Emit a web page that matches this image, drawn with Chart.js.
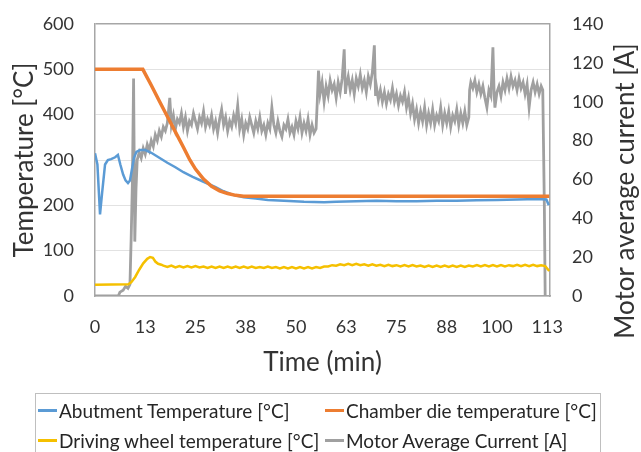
<!DOCTYPE html>
<html>
<head>
<meta charset="utf-8">
<script src="https://cdn.jsdelivr.net/npm/chart.js@4.4.1/dist/chart.umd.min.js"></script>
<style>
  html, body { margin:0; padding:0; background:#fff; }
  #wrap { position:relative; width:641px; height:452px; overflow:hidden; font-family:'Lato', sans-serif; }
  #legend { position:absolute; left:35px; top:393px; width:566px; height:70px; border:1px solid #bfbfbf; box-sizing:border-box; }
  .lg-item { position:absolute; display:flex; align-items:center; height:30px; font-size:19px; color:#262626; white-space:nowrap; }
  .lg-line { width:19px; height:3px; margin-right:2px; }
</style>
</head>
<body>
<div id="wrap">
  <canvas id="chart" width="641" height="452"></canvas>
  <div id="legend"></div>
</div>
<script>
'use strict';

// ── Colors / fonts ────────────────────────────────────────
const C = {
  blue:   '#5b9bd5',
  orange: '#ed7d31',
  yellow: '#f5c000',
  grey:   '#a0a0a0',
  frame:  '#a6a6a6',
  grid:   '#e2e2e2',
  text:   '#333333',
  none:   'rgba(0,0,0,0)',
};
const TICK_FONT  = { family: 'Lato', size: 18 };
const TITLE_FONT = { family: 'Lato', size: 26 };

// ── Data ──────────────────────────────────────────────────
const X_TICKS = [0, 12.5, 25, 37.5, 50, 62.5, 75, 87.5, 100, 112.5];

// Abutment Temperature [°C]
const ABUT_T = [0,0.6,1.25,1.8,2.5,3.2,4.0,5.0,5.7,6.3, 7.0,7.6,8.2,8.7,9.2,9.7,10.3,11.2,12.5,14,
                16,18,20,22,24.3,27,30,32,34.3,37, 40,43,47,52,57,60,65,70,75,80, 85,90,95,100,105,110,112.3,112.9];
const ABUT_V = [315,290,180,230,290,300,302,306,311,290, 268,255,249,255,280,305,318,322,322,316,
                305,294,284,273,263,252,240,231,223,218, 215,212,210,208,207,208,209,210,209,209, 210,210,211,212,213,214,213,200];

// Chamber die temperature [°C]
const CHAMBER_T = [0,11.9,14,16,18,20,22,23.6,25,27,29,31,33,35,37,39,113];
const CHAMBER_V = [500,500,465,430,396,362,328,300,280,258,242,232,226,222,220,220,220];

// Driving wheel temperature [°C]
const DRIVE_T = [0,8.3,9,10,11,12,13,13.7,14.4,15,15.7,16.5,
  17,18,19,20,21,22,23,24,25,26, 27,28,29,30,31,32,33,34,35,36,
  37,38,39,40,41,42,43,44,45,46, 47,48,49,50,51,52,53,54,55,56,
  57,58,59,60,61,62,63,64,65,66, 67,68,69,70,71,72,73,74,75,76,
  77,78,79,80,81,82,83,84,85,86, 87,88,89,90,91,92,93,94,95,96,
  97,98,99,100,101,102,103,104,105,106, 107,108,109,110,111,112, 113];
const DRIVE_V = [25,26,30,42,58,72,82,86,84,76,71,69,
  67,64,67,63,66,63,66,63,66,63, 65,62,65,62,65,62,65,62,65,62,
  65,62,65,62,64,62,65,62,64,61, 64,61,64,61,64,61,64,61,64,62,
  65,65,68,67,70,68,71,68,71,68, 70,67,70,67,69,66,69,66,68,65,
  68,65,68,65,67,64,67,64,67,64, 67,64,67,64,67,64,67,65,68,65,
  68,65,68,65,68,65,68,66,69,66, 69,66,69,66,68,66, 55];

// Motor Average Current [A]
const CURRENT_T = [
  0,5.8,6.2,7,7.6,8.2,8.7,9,9.3,9.6, 9.9,10.2,10.5,11,11.5,12,12.5,13,13.5,14,
  14.5,15,15.5,16,16.5,17,17.5,18,18.6,
  19,19.5,20,20.5,21,21.5,22,22.5,23,23.5, 24,24.5,25,25.5,26,26.5,27,27.5,28,28.5,
  29,29.5,30,30.5,31,31.5,32,32.5,33,33.5, 34,34.5,35,35.5,36,36.5,37,37.5,38,38.5,
  39,39.5,40,40.5,41,41.5,42,42.5,43,43.5, 44,44.5,45,45.5,46,46.5,47,47.5,48,48.5,
  49,49.5,50,50.5,51,51.5,52,52.5,53,53.5, 54,54.5,55,
  55.3,55.6,56,56.5,57,57.5,58,58.5,59,59.5,60,60.5,61,61.5,
  62,62.3,62.5,63,63.5,64,64.5,65,65.5,66,66.5,67,67.5,68,68.5,69,
  69.5,69.8,70,70.5,71,71.5,72,72.5,73,73.5,74,74.5, 75,75.5,76,76.5,77,77.5,78,78.5,79,79.5,
  80,80.5,81,81.5,82,82.5,83,83.5,84,84.5, 85,85.5,86,86.5,87,87.5,88,88.5,89,89.5,
  90,90.5,91,91.5,92,92.5,93,
  93.2,93.5,94,94.5,95,95.5,96,96.5,97,97.5,98,98.5,
  99,99.3,99.5,100,100.5,101,101.5,102,102.5,103,103.5,104,104.5,105,105.5,
  106,106.5,107,107.5,108,108.5,109,109.5,110,110.5,111,
  111.4,111.8,112];
const CURRENT_A = [
  0,0,2,3,5,4,6,30,58,112, 28,55,70,74,71,76,73,78,75,80,
  77,83,80,85,82,87,85,89,102,
  88,93,86,91,89,94,87,92,85,90, 88,94,90,86,92,89,95,87,91,88,
  93,86,90,84,91,96,88,92,85,90, 87,93,89,98,86,91,83,89,86,92,
  88,84,90,86,92,85,88,83,89,86, 97,88,84,90,85,82,88,86,91,84,
  87,83,90,86,92,84,89,85,91,83, 88,84,86,
  100,116,104,110,100,108,103,111,106,109,102,110,105,112,
  127,104,108,113,106,111,104,112,108,114,107,111,105,113,109,115,
  129,103,108,101,106,100,105,99,104,101,107,100, 104,98,103,100,105,97,102,94,99,91,
  96,89,95,90,97,88,94,89,96,88, 93,90,97,88,94,89,95,87,93,90,
  96,88,94,89,95,88,92,
  106,110,107,111,105,109,104,108,102,97,106,103,
  128,104,97,105,108,103,110,106,112,107,113,108,111,106,112,
  107,110,104,109,97,106,110,105,109,104,108,
  106,45,0];

const zip = (xs, ys) => xs.map((x, i) => ({ x, y: ys[i] }));

// ── Right axis title (kept off the scale so it is not squeezed) ──
const rightTitle = {
  id: 'rightTitle',
  afterDraw(chart) {
    const { ctx, chartArea } = chart;
    const s = chart.scales.y2;
    ctx.save();
    ctx.translate(s.right - 15, (chartArea.top + chartArea.bottom) / 2 + 31);
    ctx.rotate(-Math.PI / 2);
    ctx.font = `${TITLE_FONT.size}px ${TITLE_FONT.family}`;
    ctx.fillStyle = C.text;
    ctx.textAlign = 'center';
    ctx.textBaseline = 'middle';
    ctx.fillText('Motor average current [A]', 0, 0);
    ctx.restore();
  }
};

// ── Chart ─────────────────────────────────────────────────
// y-axis label gaps come from invisible tick marks: ticks.padding would also pad the top
const chart = new Chart(document.getElementById('chart'), {
  type: 'line',
  data: {
    datasets: [
      { label:'Abutment Temperature [°C]',   data: zip(ABUT_T, ABUT_V),       borderColor:C.blue,   borderWidth:2.5, yAxisID:'y',  order:1 },
      { label:'Chamber die temperature [°C]', data: zip(CHAMBER_T, CHAMBER_V), borderColor:C.orange, borderWidth:3.5, yAxisID:'y',  order:0 },
      { label:'Driving wheel temperature [°C]', data: zip(DRIVE_T, DRIVE_V),  borderColor:C.yellow, borderWidth:2.5, yAxisID:'y',  order:2 },
      { label:'Motor Average Current [A]',    data: zip(CURRENT_T, CURRENT_A), borderColor:C.grey,   borderWidth:2.8, yAxisID:'y2', order:3 },
    ]
  },
  options: {
    responsive: false,
    animation: false,
    layout: { padding: { top:24, right:0, bottom:72, left:0 } },
    elements: { point: { radius:0 }, line: { tension:0, fill:false } },
    plugins: { legend:{ display:false }, tooltip:{ enabled:false } },
    scales: {
      x: {
        type: 'linear', min: 0, max: 113.2,
        afterBuildTicks: s => { s.ticks = X_TICKS.map(v => ({ value: v })); },
        grid: { display:false, drawTicks:false },
        border: { display:true, color:C.frame, width:1.5 },
        ticks: { padding:20, autoSkip:false, maxRotation:0, font:TICK_FONT, color:C.text, callback: v => Math.round(v) },
        title: { display:true, text:'Time (min)', font:TITLE_FONT, color:C.text, padding:{ top:0, bottom:2 } },
        afterFit: s => { s.height = 84; },
      },
      y: {
        position: 'left', min: 0, max: 600,
        grid: {
          color: c => c.tick.value === 600 ? C.frame : C.grid,
          lineWidth: c => c.tick.value === 600 ? 1.5 : 1,
          drawTicks: true, tickLength: 20, tickColor: C.none,
        },
        border: { display:true, color:C.frame, width:1.5 },
        ticks: { stepSize:100, padding:1, font:TICK_FONT, color:C.text },
        title: { display:true, text:'Temperature [°C]', font:TITLE_FONT, color:C.text, padding:{ top:9, bottom:0 } },
        afterFit: s => { s.width = 95; },
      },
      y2: {
        position: 'right', min: 0, max: 140,
        grid: { drawOnChartArea:false, drawTicks:true, tickLength:21, tickColor:C.none },
        border: { display:true, color:C.frame, width:1.5 },
        ticks: { stepSize:20, padding:1, font:TICK_FONT, color:C.text },
        afterFit: s => { s.width = 91; },
      },
    }
  },
  plugins: [rightTitle]
});

// ── Legend (two columns, boxed) ───────────────────────────
const legendEl = document.getElementById('legend');
chart.data.datasets.forEach((ds, i) => {
  const col = i % 2, row = Math.floor(i / 2);
  legendEl.innerHTML += `
    <div class="lg-item" style="left:${2 + col * 287}px;top:${1 + row * 30}px">
      <span class="lg-line" style="background:${ds.borderColor}"></span>${ds.label}
    </div>`;
});
</script>
</body>
</html>
